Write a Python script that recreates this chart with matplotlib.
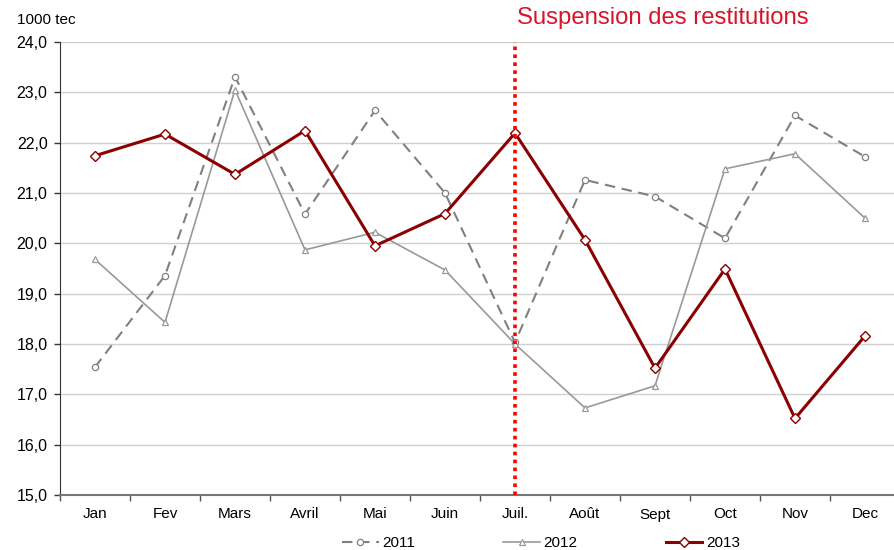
import numpy as np
import matplotlib
matplotlib.use('Agg')
import matplotlib.pyplot as plt
from matplotlib.ticker import FuncFormatter

plt.rcParams['font.family'] = ['Liberation Sans', 'DejaVu Sans']

months = ['Jan', 'Fev', 'Mars', 'Avril', 'Mai', 'Juin', 'Juil.', 'Août', 'Sept', 'Oct', 'Nov', 'Dec']
v2011 = [17.54, 19.36, 23.31, 20.58, 22.64, 21.00, 18.03, 21.26, 20.93, 20.10, 22.54, 21.72]
v2012 = [19.68, 18.43, 23.05, 19.87, 20.22, 19.47, 18.00, 16.73, 17.17, 21.48, 21.78, 20.50]
v2013 = [21.74, 22.17, 21.37, 22.24, 19.95, 20.59, 22.19, 20.07, 17.52, 19.49, 16.52, 18.16]
suspension_month = 6
note = 'Suspension des restitutions'

W, H = 894, 550
fig = plt.figure(figsize=(W / 100, H / 100), dpi=100)
ax = fig.add_axes([60 / W, (H - 495) / H, 834 / W, (495 - 42) / H])

x = np.arange(len(months))
ax.plot(x, v2011, color='#808080', lw=1.5, dashes=(5, 3.2), marker='o', ms=4.5,
        mfc='white', mec='#808080', mew=0.9, label='2011', zorder=3)
ax.plot(x, v2012, color='#999999', lw=1.2, marker='^', ms=5, mfc='white',
        mec='#999999', mew=0.9, label='2012', zorder=3)
ax.plot(x, v2013, color='#8b0000', lw=2.2, marker='D', ms=5, mfc='white',
        mec='#8b0000', mew=1.0, label='2013', zorder=4)

ax.axvline(suspension_month, color='#ff0000', lw=2.6, ls=(0, (1, 1.2)), zorder=5)

ax.set_yticks(np.arange(15, 24.1, 1))
ax.yaxis.set_major_formatter(FuncFormatter(lambda v, p: f'{v:.1f}'.replace('.', ',')))
ax.set_xticks(x)
ax.set_xticklabels(months)
ax.set_xticks(np.arange(-0.5, 12, 1), minor=True)
ax.set_ylim(15, 24)
ax.set_xlim(-0.5, -0.5 + 834 / 70)
ax.tick_params(axis='x', which='major', length=0, pad=9, labelsize=11)
ax.tick_params(axis='x', which='minor', length=4, width=1, color='#555555', direction='out')
ax.tick_params(axis='y', length=4, width=1, color='#333333', pad=5, labelsize=11.5)

ax.grid(axis='y', color='#d0d0d0', lw=1)
ax.set_axisbelow(True)
for s in ['top', 'right']:
    ax.spines[s].set_visible(False)
ax.spines['left'].set_color('#333333')
ax.spines['bottom'].set_color('#777777')
ax.spines['bottom'].set_linewidth(1.5)

fig.text(17 / W, 1 - 24 / H, '1000 tec', fontsize=11, va='baseline', ha='left')
fig.text(517 / W, 1 - 24 / H, note, fontsize=17.2, color='#d7142b', va='baseline', ha='left')

fig.legend(loc='center', bbox_to_anchor=(541 / W, 1 - 543 / H), ncol=3, frameon=False,
           fontsize=11, handlelength=2.4, handletextpad=0.25, columnspacing=5.75)

fig.savefig('out.png', dpi=100)
